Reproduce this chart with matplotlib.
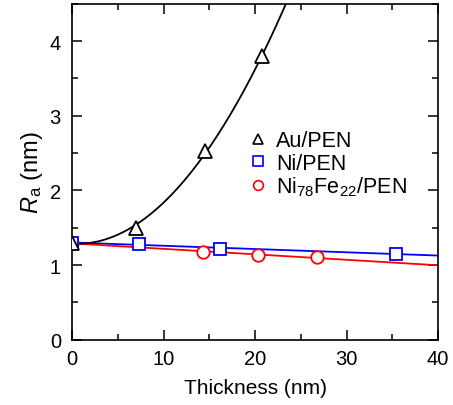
import numpy as np
import matplotlib.pyplot as plt
from matplotlib.ticker import MultipleLocator

plt.rcParams['font.family'] = ['Liberation Sans', 'DejaVu Sans']
plt.rcParams['mathtext.fontset'] = 'custom'
plt.rcParams['mathtext.rm'] = 'Liberation Sans'
plt.rcParams['mathtext.it'] = 'Liberation Sans:italic'

# data
au_x = [0, 7.0, 14.5, 20.8]
au_y = [1.30, 1.50, 2.53, 3.80]
ni_x = [0, 7.3, 16.2, 35.4]
ni_y = [1.30, 1.28, 1.22, 1.15]
nife_x = [0, 14.3, 20.3, 26.8]
nife_y = [1.30, 1.17, 1.13, 1.11]

fig = plt.figure(figsize=(4.53, 4.06), dpi=100)
ax = fig.add_axes([0.159, 0.161, 0.808, 0.827])

xx = np.linspace(0, 40, 400)
# fitted curves
p_au = np.polyfit(au_x, au_y, 2)
p_ni = np.polyfit(ni_x, ni_y, 1)
p_nife = np.polyfit(nife_x, nife_y, 1)
ax.plot(xx, np.polyval(p_ni, xx), color='blue', lw=1.3, zorder=2)
ax.plot(xx, np.polyval(p_nife, xx), color='red', lw=1.3, zorder=2)
ax.plot(xx, np.polyval(p_au, xx), color='black', lw=1.3, zorder=3)

ax.plot(nife_x, nife_y, 'o', mfc='white', mec='red', mew=1.3, ms=9, zorder=4)
ax.plot(ni_x, ni_y, 's', mfc='white', mec='blue', mew=1.3, ms=8.5, zorder=5)
ax.plot(au_x, au_y, '^', mfc='white', mec='black', mew=1.3, ms=9.5, zorder=6)

# legend entries (markers only)
h1, = ax.plot([], [], '^', mfc='white', mec='black', mew=1.2, ms=7)
h2, = ax.plot([], [], 's', mfc='white', mec='blue', mew=1.2, ms=6.5)
h3, = ax.plot([], [], 'o', mfc='white', mec='red', mew=1.2, ms=7)
ax.legend([h1, h2, h3], ['Au/PEN', 'Ni/PEN', r'Ni$_{78}$Fe$_{22}$/PEN'],
          loc='upper left', bbox_to_anchor=(0.455, 0.655), frameon=False,
          fontsize=15.5, handlelength=0.8, handletextpad=0.45, labelspacing=0.05,
          borderpad=0)

ax.set_xlim(0, 40)
ax.set_ylim(0, 4.5)
ax.xaxis.set_major_locator(MultipleLocator(10))
ax.xaxis.set_minor_locator(MultipleLocator(5))
ax.yaxis.set_major_locator(MultipleLocator(1))
ax.yaxis.set_minor_locator(MultipleLocator(0.5))
ax.tick_params(which='both', direction='in', top=True, right=True, labelsize=14.5, width=1.1)
ax.tick_params(which='major', length=7.5)
ax.tick_params(which='minor', length=4.5)
ax.tick_params(axis='x', which='major', pad=7)
ax.tick_params(axis='y', which='major', pad=8)
for s in ax.spines.values():
    s.set_linewidth(1.2)

ax.set_xlabel('Thickness (nm)', fontsize=15, labelpad=7)
ax.set_ylabel(r'$R_\mathrm{a}$ (nm)', fontsize=17, labelpad=3)

fig.savefig('out.png', dpi=100)
